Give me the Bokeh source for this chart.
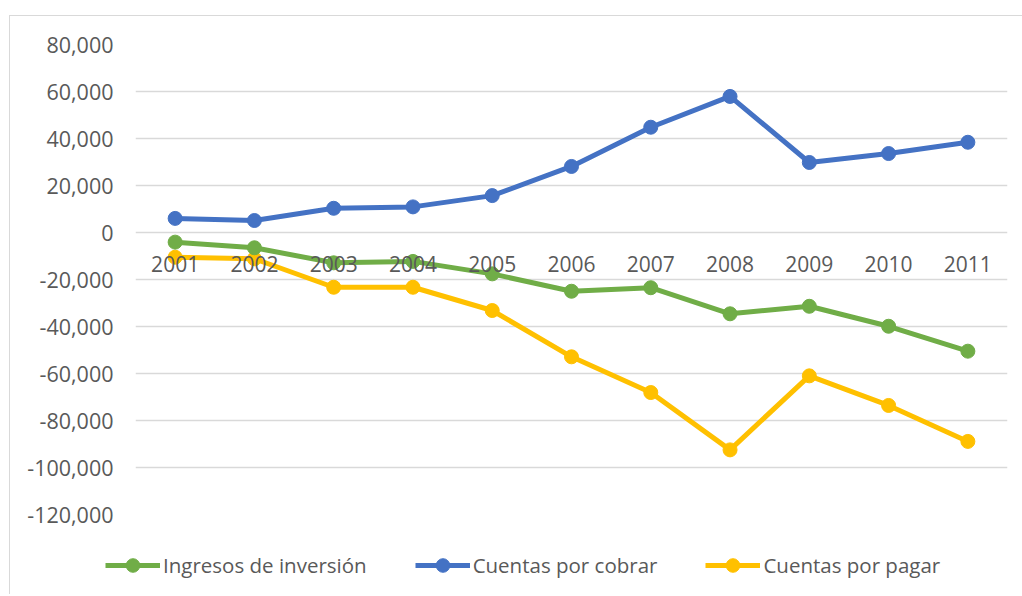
from bokeh.plotting import figure
from bokeh.layouts import column
from bokeh.models import (FactorRange, Range1d, FixedTicker, NumeralTickFormatter,
                          Legend, LegendItem, ColumnDataSource)
from bokeh.core.properties import value
from bokeh.embed import file_html
from bokeh.resources import INLINE

years = ["2001", "2002", "2003", "2004", "2005", "2006", "2007", "2008", "2009", "2010", "2011"]
ingresos_inversion = [-4100, -6500, -12900, -12300, -17600, -25000, -23500, -34600, -31400, -39900, -50500]
cuentas_cobrar = [6000, 5100, 10300, 10900, 15700, 28100, 44800, 57900, 29800, 33600, 38400]
cuentas_pagar = [-10500, -11200, -23300, -23300, -33200, -52900, -68100, -92500, -61000, -73600, -88900]
y_ticks = [-120000, -100000, -80000, -60000, -40000, -20000, 0, 20000, 40000, 60000, 80000]

FONT = "Open Sans"
TXT = "#595959"

p = figure(x_range=FactorRange(*years, range_padding=0),
           y_range=Range1d(-120000, 80000),
           frame_width=872, frame_height=470,
           min_border_left=125, min_border_right=15, min_border_top=28, min_border_bottom=16,
           output_backend="svg", toolbar_location=None, x_axis_location=None,
           background_fill_color="white", border_fill_color="white")
p.frame_align = False
p.outline_line_color = None
p.xgrid.grid_line_color = None
p.ygrid.grid_line_color = "#D9D9D9"
p.ygrid.grid_line_width = 1.3

yax = p.yaxis[0]
yax.ticker = FixedTicker(ticks=y_ticks)
yax.formatter = NumeralTickFormatter(format="0,0")
yax.axis_line_color = None
yax.major_tick_line_color = None
yax.minor_tick_line_color = None
yax.major_tick_out = 0
yax.major_label_standoff = 22
yax.major_label_text_font = FONT
yax.major_label_text_font_size = "21.5px"
yax.major_label_text_color = TXT

series = [
    ("Cuentas por pagar", cuentas_pagar, "#FFC000"),
    ("Cuentas por cobrar", cuentas_cobrar, "#4472C4"),
    ("Ingresos de inversión", ingresos_inversion, "#70AD47"),
]

# legend strip: same series, drawn outside its visible range so only the legend shows
q = figure(x_range=FactorRange(*years, range_padding=0), y_range=Range1d(500000, 600000),
           width=1012, height=64, min_border=0,
           min_border_left=0, min_border_right=0, min_border_top=0, min_border_bottom=0,
           output_backend="svg", toolbar_location=None,
           x_axis_location=None, y_axis_location=None,
           background_fill_color="white", border_fill_color="white")
q.frame_align = False
q.outline_line_color = None
q.grid.visible = False

items = {}
for name, vals, color in series:
    src = ColumnDataSource(dict(x=years, y=vals))
    p.line("x", "y", source=src, line_color=color, line_width=5)
    p.scatter("x", "y", source=src, size=14, fill_color=color, line_color=color)
    l = q.line("x", "y", source=src, line_color=color, line_width=5)
    s = q.scatter("x", "y", source=src, size=14, fill_color=color, line_color=color)
    items[name] = [l, s]

# category labels sitting just under the zero line (the category axis crosses at 0)
lab_src = ColumnDataSource(dict(x=years, y=[0] * len(years), t=years))
p.text("x", "y", text="t", source=lab_src, text_align="center", text_baseline="middle",
       y_offset=31, text_font=value(FONT), text_font_size="21px", text_color=TXT)

legend = Legend(items=[LegendItem(label=n, renderers=items[n]) for n in
                       ["Ingresos de inversión", "Cuentas por cobrar", "Cuentas por pagar"]],
                orientation="horizontal", location=(95, 12),
                label_text_font=FONT, label_text_font_size="20.5px", label_text_color=TXT,
                glyph_width=55, glyph_height=34, label_standoff=3, spacing=48,
                padding=0, margin=0, border_line_color=None, background_fill_alpha=0)
q.add_layout(legend, "center")

layout = column(p, q, spacing=0)
layout.styles = {"border-top": "1px solid #D9D9D9", "border-left": "1px solid #D9D9D9",
                 "margin-top": "15px", "margin-left": "9px"}

open("out.html", "w").write(file_html(layout, INLINE))
